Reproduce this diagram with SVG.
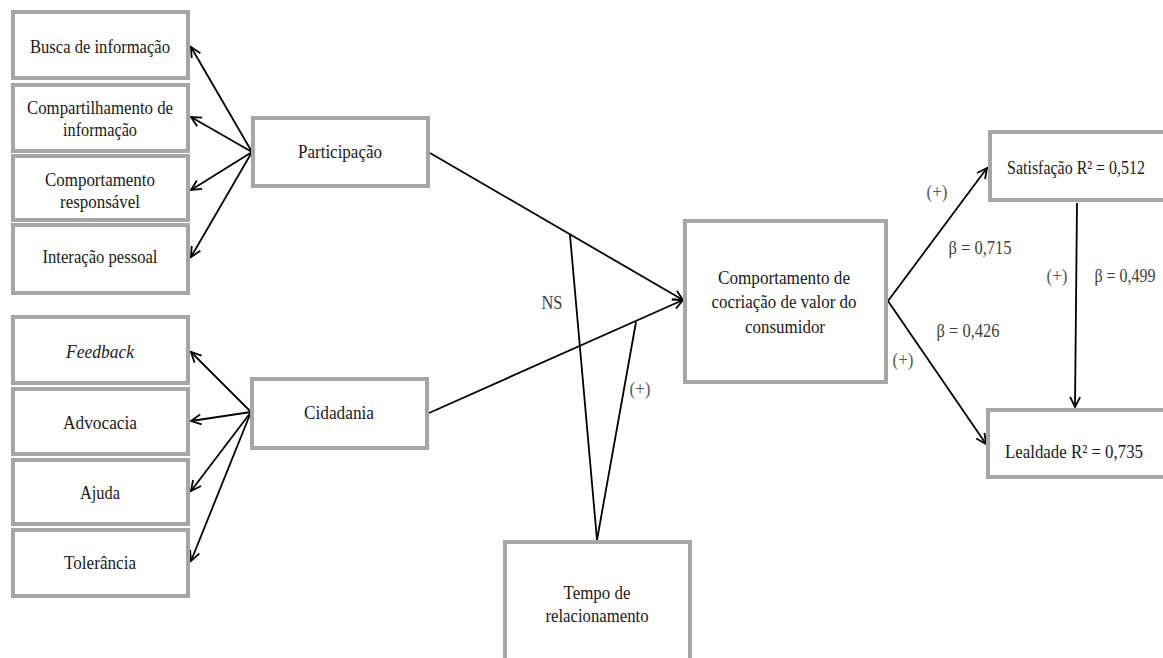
<svg xmlns="http://www.w3.org/2000/svg" width="1163" height="658" viewBox="0 0 1163 658">
  <style>
    .box { fill: #ffffff; stroke: #a6a6a6; stroke-width: 4; }
    .txt { font-family: "Liberation Serif", "Times New Roman", serif; font-size: 19px; fill: #1a1a1a; text-anchor: middle; }
    .lbl { font-family: "Liberation Serif", "Times New Roman", serif; font-size: 19px; fill: #404040; text-anchor: middle; }
    .sign { fill: #595959; }
    .edge { stroke: #000000; stroke-width: 1.8; fill: none; }
  </style>
  <defs>
    <marker id="arrow" markerUnits="userSpaceOnUse" markerWidth="14" markerHeight="14" viewBox="-12 -7 14 14" refX="0" refY="0" orient="auto">
      <path d="M-10,-5 L0,0 L-10,5" fill="none" stroke="#000000" stroke-width="1.8"/>
    </marker>
  </defs>
  <rect width="1163" height="658" fill="#ffffff"/>

  <!-- connectors -->
  <g id="connectors">
    <!-- Participação dimensions -->
    <line class="edge" x1="252" y1="152" x2="191" y2="47" marker-end="url(#arrow)"/>
    <line class="edge" x1="252" y1="152" x2="191" y2="117" marker-end="url(#arrow)"/>
    <line class="edge" x1="252" y1="152" x2="191" y2="190" marker-end="url(#arrow)"/>
    <line class="edge" x1="252" y1="152" x2="191" y2="257" marker-end="url(#arrow)"/>
    <!-- Cidadania dimensions -->
    <line class="edge" x1="251" y1="412" x2="191" y2="352" marker-end="url(#arrow)"/>
    <line class="edge" x1="251" y1="412" x2="191" y2="421" marker-end="url(#arrow)"/>
    <line class="edge" x1="251" y1="412" x2="191" y2="491" marker-end="url(#arrow)"/>
    <line class="edge" x1="251" y1="412" x2="191" y2="561" marker-end="url(#arrow)"/>
    <!-- main paths -->
    <line class="edge" x1="430" y1="153" x2="683" y2="300" marker-end="url(#arrow)"/>
    <line class="edge" x1="429" y1="413" x2="683" y2="300" marker-end="url(#arrow)"/>
    <!-- moderation -->
    <line class="edge" x1="570" y1="235" x2="597" y2="540"/>
    <line class="edge" x1="636" y1="322" x2="597" y2="540"/>
    <!-- outcomes -->
    <line class="edge" x1="888" y1="301" x2="987" y2="168" marker-end="url(#arrow)"/>
    <line class="edge" x1="888" y1="301" x2="986" y2="444" marker-end="url(#arrow)"/>
    <line class="edge" x1="1077" y1="203" x2="1075" y2="407" marker-end="url(#arrow)"/>
  </g>

  <!-- path labels -->
  <g id="labels">
    <text class="lbl" x="552" y="309" textLength="21" lengthAdjust="spacingAndGlyphs">NS</text>
    <text class="lbl sign" x="640" y="395" textLength="21" lengthAdjust="spacingAndGlyphs">(+)</text>
    <text class="lbl sign" x="937" y="198" textLength="21" lengthAdjust="spacingAndGlyphs">(+)</text>
    <text class="lbl" x="980" y="254" textLength="63" lengthAdjust="spacingAndGlyphs">β = 0,715</text>
    <text class="lbl sign" x="1057" y="282" textLength="21" lengthAdjust="spacingAndGlyphs">(+)</text>
    <text class="lbl" transform="translate(1125,282) scale(0.84,1)" x="0" y="0">β = 0,499</text>
    <text class="lbl" x="968" y="337" textLength="63" lengthAdjust="spacingAndGlyphs">β = 0,426</text>
    <text class="lbl sign" x="903" y="366" textLength="21" lengthAdjust="spacingAndGlyphs">(+)</text>
  </g>

  <!-- Participação dimensions -->
  <g id="busca">
    <rect class="box" x="13" y="12" width="175" height="66"/>
    <text class="txt" x="100" y="53" textLength="140" lengthAdjust="spacingAndGlyphs">Busca de informação</text>
  </g>
  <g id="compartilhamento">
    <rect class="box" x="13" y="85" width="175" height="66"/>
    <text class="txt" x="100" y="114" textLength="146" lengthAdjust="spacingAndGlyphs">Compartilhamento de</text>
    <text class="txt" x="100" y="136" textLength="74" lengthAdjust="spacingAndGlyphs">informação</text>
  </g>
  <g id="responsavel">
    <rect class="box" x="13" y="156" width="175" height="64"/>
    <text class="txt" x="100" y="186" textLength="110" lengthAdjust="spacingAndGlyphs">Comportamento</text>
    <text class="txt" x="100" y="208" textLength="80" lengthAdjust="spacingAndGlyphs">responsável</text>
  </g>
  <g id="interacao">
    <rect class="box" x="13" y="225" width="175" height="68"/>
    <text class="txt" x="100" y="263" textLength="115" lengthAdjust="spacingAndGlyphs">Interação pessoal</text>
  </g>

  <!-- Cidadania dimensions -->
  <g id="feedback">
    <rect class="box" x="13" y="317" width="175" height="66"/>
    <text class="txt" x="100" y="358" font-style="italic" textLength="68" lengthAdjust="spacingAndGlyphs">Feedback</text>
  </g>
  <g id="advocacia">
    <rect class="box" x="13" y="389" width="175" height="65"/>
    <text class="txt" x="100" y="429" textLength="74" lengthAdjust="spacingAndGlyphs">Advocacia</text>
  </g>
  <g id="ajuda">
    <rect class="box" x="13" y="460" width="175" height="64"/>
    <text class="txt" x="100" y="499" textLength="40" lengthAdjust="spacingAndGlyphs">Ajuda</text>
  </g>
  <g id="tolerancia">
    <rect class="box" x="13" y="530" width="175" height="66"/>
    <text class="txt" x="100" y="569" textLength="72" lengthAdjust="spacingAndGlyphs">Tolerância</text>
  </g>

  <!-- constructs -->
  <g id="participacao">
    <rect class="box" x="253" y="118" width="175" height="68"/>
    <text class="txt" x="340" y="158" textLength="84" lengthAdjust="spacingAndGlyphs">Participação</text>
  </g>
  <g id="cidadania">
    <rect class="box" x="252" y="379" width="175" height="69"/>
    <text class="txt" x="339" y="419" textLength="70" lengthAdjust="spacingAndGlyphs">Cidadania</text>
  </g>
  <g id="cocriacao">
    <rect class="box" x="685" y="221" width="201" height="161"/>
    <text class="txt" x="784" y="284" textLength="132" lengthAdjust="spacingAndGlyphs">Comportamento de</text>
    <text class="txt" x="784" y="308" textLength="145" lengthAdjust="spacingAndGlyphs">cocriação de valor do</text>
    <text class="txt" x="785" y="333" textLength="80" lengthAdjust="spacingAndGlyphs">consumidor</text>
  </g>
  <!-- boxes at the page edge are left open on the clipped side -->
  <g id="tempo">
    <path class="box" d="M505,658 V542 H690 V658"/>
    <text class="txt" x="597" y="599" textLength="67" lengthAdjust="spacingAndGlyphs">Tempo de</text>
    <text class="txt" x="597" y="622" textLength="103" lengthAdjust="spacingAndGlyphs">relacionamento</text>
  </g>
  <g id="satisfacao">
    <path class="box" d="M1163,132 H990 V200 H1163"/>
    <text class="txt" transform="translate(1076,174) scale(0.84,1)" x="0" y="0">Satisfação R² = 0,512</text>
  </g>
  <g id="lealdade">
    <path class="box" d="M1163,410 H988 V477 H1163"/>
    <text class="txt" x="1074" y="458" textLength="138" lengthAdjust="spacingAndGlyphs">Lealdade R² = 0,735</text>
  </g>
</svg>
